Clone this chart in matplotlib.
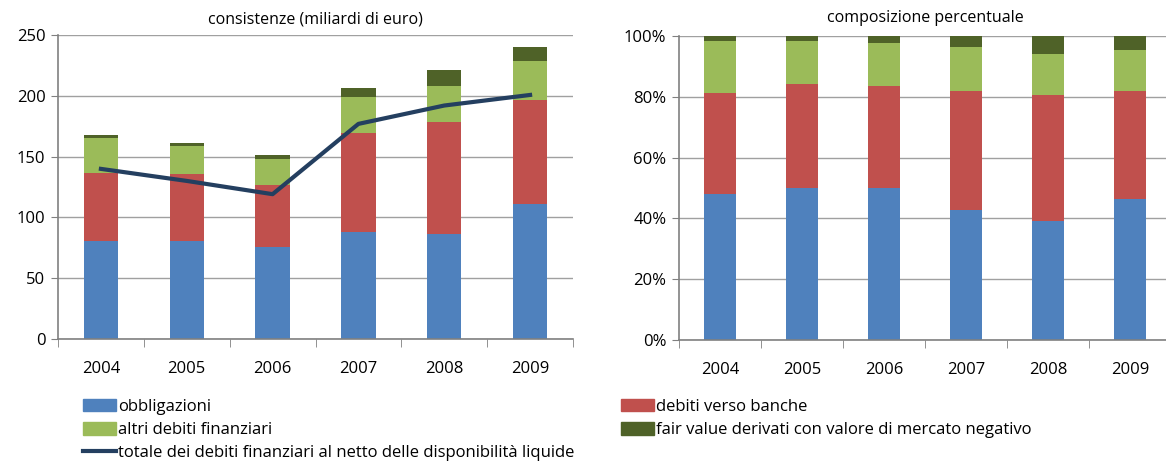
import matplotlib.pyplot as plt
import numpy as np
from matplotlib.patches import Patch
from matplotlib.lines import Line2D
from matplotlib.ticker import FuncFormatter, MultipleLocator

plt.rcParams['font.family'] = ['Open Sans', 'DejaVu Sans']

# data (miliardi di euro)
years = ['2004', '2005', '2006', '2007', '2008', '2009']
obbligazioni = [80.5, 80.5, 75.8, 88.4, 86.3, 111.2]
debiti_banche = [56.1, 55.3, 51.0, 81.1, 92.0, 85.4]
altri_debiti = [28.8, 23.0, 21.3, 29.6, 29.5, 32.0]
fair_value = [2.5, 2.5, 3.6, 7.6, 13.2, 11.3]
totale_netto = [139.9, 130.0, 119.1, 176.9, 192.0, 200.7]

labels = ['obbligazioni', 'debiti verso banche', 'altri debiti finanziari',
          'fair value derivati con valore di mercato negativo']
colors = ['#4F81BD', '#C0504D', '#9BBB59', '#4F6228']
line_color = '#243F60'
line_label = 'totale dei debiti finanziari al netto delle disponibilità liquide'

series = np.array([obbligazioni, debiti_banche, altri_debiti, fair_value])
shares = series / series.sum(axis=0)

fig = plt.figure(figsize=(11.66, 4.62), dpi=100)
W, H = 1166, 462
ax1 = fig.add_axes([58 / W, 1 - 339 / H, (573 - 58) / W, (339 - 35) / H])
ax2 = fig.add_axes([679 / W, 1 - 340 / H, (1171 - 679) / W, (340 - 36) / H])

x = np.arange(len(years))
bw = 0.4


def style(ax):
    ax.set_xlim(-0.5, len(years) - 0.5)
    ax.set_xticks(x)
    ax.set_xticklabels(years)
    ax.set_xticks(np.arange(-0.5, len(years)), minor=True)
    ax.tick_params(axis='x', which='major', length=0, pad=16, labelsize=12)
    ax.tick_params(axis='x', which='minor', length=6, color='#808080')
    ax.tick_params(axis='y', length=5, color='#808080', labelsize=12, pad=4)
    ax.grid(axis='y', color='#A0A0A0', linewidth=1)
    ax.set_axisbelow(True)
    for s in ['top', 'right']:
        ax.spines[s].set_visible(False)
    for s in ['left', 'bottom']:
        ax.spines[s].set_color('#808080')
        ax.spines[s].set_linewidth(1.2)


bottom = np.zeros(len(years))
for vals, c in zip(series, colors):
    ax1.bar(x, vals, bw, bottom=bottom, color=c, zorder=2)
    bottom += vals
ax1.plot(x, totale_netto, color=line_color, linewidth=3, zorder=3)
ax1.set_ylim(0, 250)
ax1.yaxis.set_major_locator(MultipleLocator(50))
style(ax1)
ax1.set_title('consistenze (miliardi di euro)', fontsize=11.5, pad=8)

bottom = np.zeros(len(years))
for vals, c in zip(shares, colors):
    ax2.bar(x, vals, bw, bottom=bottom, color=c, zorder=2)
    bottom += vals
ax2.set_ylim(0, 1)
ax2.yaxis.set_major_locator(MultipleLocator(0.2))
ax2.yaxis.set_major_formatter(FuncFormatter(lambda v, p: f'{v * 100:.0f}%'))
style(ax2)
ax2.set_title('composizione percentuale', fontsize=11.5, pad=10)

h = [Patch(color=c) for c in colors]
hl = Line2D([], [], color=line_color, linewidth=3)
leg_kw = dict(frameon=False, fontsize=12, handlelength=2.0, handleheight=0.8,
              handletextpad=0.15, labelspacing=0.42, borderaxespad=0, loc='upper left')
fig.legend([h[0], h[2], hl], [labels[0], labels[2], line_label],
           bbox_to_anchor=(76 / W, 1 - 392 / H), **leg_kw)
fig.legend([h[1], h[3]], [labels[1], labels[3]],
           bbox_to_anchor=(614 / W, 1 - 392 / H), **leg_kw)

fig.savefig('out.png', dpi=100)
